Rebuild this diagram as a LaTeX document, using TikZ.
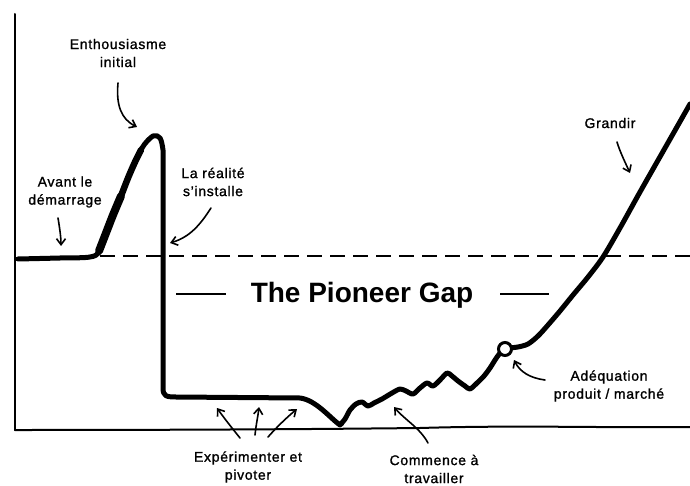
\documentclass[tikz,border=0pt]{standalone}
\usepackage{fontspec}
\setmainfont{Liberation Sans}
\usetikzlibrary{arrows.meta}

\tikzset{
  axisline/.style={line width=2pt, line cap=round, line join=round},
  curve/.style={line width=5pt, line cap=round, line join=round},
  gapline/.style={line width=2pt, dash pattern=on 15pt off 8pt},
  gapdash/.style={line width=2.6pt},
  pointer/.style={line width=1.6pt, line cap=round,
    -{Straight Barb[length=6pt,width=9pt,line width=1.6pt]}},
  lbl/.style={font=\fontsize{14}{18}\selectfont\addfontfeature{LetterSpace=5,FakeBold=1.2}, align=center, inner sep=0pt},
  title/.style={font=\fontsize{28}{30}\selectfont\bfseries, inner sep=0pt}
}

\begin{document}
\begin{tikzpicture}[x=1pt,y=-1pt]
  \useasboundingbox[fill=white] (0,0) rectangle (690,486);

  % axes
  \draw[axisline] (15,14) -- (15,430);
  \draw[axisline] (15,430) .. controls (200,430) and (330,429) .. (420,428)
                           .. controls (520,425) and (600,428) .. (690,427);

  % threshold line
  \draw[gapline] (100,256) -- (690,256);

  % the journey curve
  \draw[curve] plot[smooth,tension=0.5] coordinates {(18,259) (60,258) (90,257) (100,250) (113,215) (128,178) (142,148) (153,136) (160,138) (163,150) (163,165)}
    -- (163,388) .. controls (163,396) and (166,397) .. (176,397)
    -- (300,398) .. controls (316,400) and (330,418) .. (340,425)
    -- plot[smooth,tension=0.5] coordinates {(340,425) (345,419) (350,410) (356,404) (362,402) (368,406) (374,403) (382,399) (392,393) (400,389) (406,391) (413,394) (420,388) (427,383) (433,386) (440,380) (447,373) (452,376) (458,381) (465,386) (470,389) (477,383) (484,376) (490,368) (497,357) (503,350) (510,348) (518,347) (528,344) (538,336) (548,325) (560,311) (573,295) (588,277) (603,257) (620,228) (640,192) (665,148) (690,104)};
  % heavier stroke on the rise, thinning towards the top
  \draw[line width=8pt, line cap=round] plot[smooth,tension=0.5] coordinates {(99,251) (106,233) (113,215) (121,196)};
  \draw[line width=6.5pt, line cap=round] plot[smooth,tension=0.5] coordinates {(113,215) (121,196) (128,178) (135,162) (141,150)};
  \draw[line width=4pt, line cap=round] (338,424) -- (342,424);

  % product/market fit marker
  \draw[line width=3pt, fill=white] (505,349) circle (6.5pt);

  % gap title
  \node[title] (gap) at (362,295) {The Pioneer Gap};
  \draw[gapdash] (176,294) -- (226,294);
  \draw[gapdash] (500,294) -- (549,294);

  % labels
  \node[lbl] (enthus) at (118,53) {Enthousiasme\\initial};
  \node[lbl] (avant) at (65,192) {Avant le\\démarrage};
  \node[lbl] (realite) at (213,182) {La réalité\\s'installe};
  \node[lbl] (experim) at (248,467) {Expérimenter et\\pivoter};
  \node[lbl] (commence) at (434,469) {Commence à\\travailler};
  \node[lbl] (adequ) at (609,386) {Adéquation\\produit / marché};
  \node[lbl] (grandir) at (610,123) {Grandir};

  % pointer end points
  \coordinate (e0) at (118,83);  \coordinate (e1) at (137,127);
  \coordinate (a0) at (58,218);  \coordinate (a1) at (61,246);
  \coordinate (r0) at (211,208); \coordinate (r1) at (170,243);
  \coordinate (x0) at (240,438); \coordinate (x1) at (217,408);
  \coordinate (y0) at (255,435); \coordinate (y1) at (259,407);
  \coordinate (z0) at (268,437); \coordinate (z1) at (297,409);
  \coordinate (c0) at (428,443); \coordinate (c1) at (394,407);
  \coordinate (p0) at (545,380); \coordinate (p1) at (514,360);
  \coordinate (g0) at (617,142); \coordinate (g1) at (630,173);

  % pointers
  \draw[pointer] (e0) .. controls (116,105) and (121,119) .. (e1);
  \draw[pointer] (a0) .. controls (60,230) and (61,238) .. (a1);
  \draw[pointer] (r0) .. controls (200,225) and (190,237) .. (r1);
  \draw[pointer] (x0) .. controls (232,428) and (224,418) .. (x1);
  \draw[pointer] (y0) .. controls (256,425) and (258,416) .. (y1);
  \draw[pointer] (z0) .. controls (276,428) and (286,418) .. (z1);
  \draw[pointer] (c0) .. controls (420,428) and (405,420) .. (c1);
  \draw[pointer] (p0) .. controls (530,378) and (520,372) .. (p1);
  \draw[pointer] (g0) .. controls (620,152) and (625,162) .. (g1);
\end{tikzpicture}
\end{document}
